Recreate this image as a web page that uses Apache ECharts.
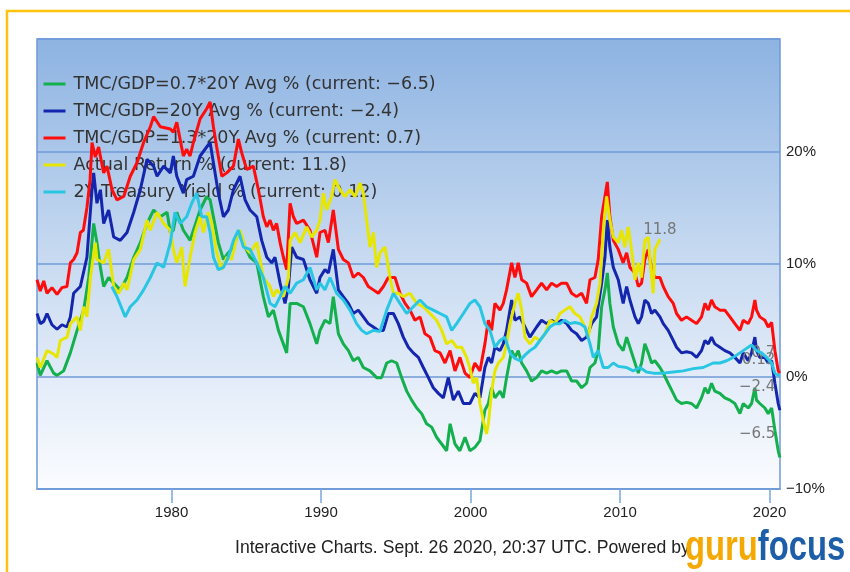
<!DOCTYPE html>
<html>
<head>
<meta charset="utf-8">
<script src="https://cdn.jsdelivr.net/npm/echarts@6/dist/echarts.min.js"></script>
<style>
html,body{margin:0;padding:0;background:#fff;}
#chart{width:850px;height:572px;}
</style>
</head>
<body>
<div id="chart"></div>
<script>
// ---------- DATA ----------
const seriesNames = [
  'TMC/GDP=0.7*20Y Avg %',
  'TMC/GDP=20Y Avg %',
  'TMC/GDP=1.3*20Y Avg %',
  'Actual Return %',
  '2Y Treasury Yield %'
];
const currentValues = ['−6.5', '−2.4', '0.7', '11.8', '0.12'];
const xTickYears = [1980, 1990, 2000, 2010, 2020];
const yTicks = [-10, 0, 10, 20, 30];

const greenData = [
[1971.0,1.2],[1971.22,0.1],[1971.67,1.4],[1972.11,0.3],[1972.34,0.1],[1972.78,0.5],[1973.23,2.1],[1973.68,4.1],[1974.12,5.9],[1974.46,8.8],[1974.79,13.6],[1975.01,11.9],[1975.24,9.7],[1975.46,8.0],[1975.79,8.8],[1976.13,8.3],[1976.57,7.7],[1977.02,8.8],[1977.47,10.6],[1977.91,11.9],[1978.36,13.6],[1978.8,14.8],[1979.25,14.2],[1979.7,14.6],[1979.92,12.8],
[1980.12,13.0],[1980.35,14.6],[1980.79,13.0],[1981.24,12.1],[1981.46,13.0],[1981.91,14.8],[1982.35,16.0],[1982.58,15.7],[1982.8,14.2],[1983.13,11.9],[1983.47,10.4],[1983.8,11.0],[1984.14,11.5],[1984.47,12.8],[1984.92,11.5],[1985.25,10.6],[1985.7,10.1],[1986.14,7.1],[1986.48,5.3],[1986.81,5.9],[1987.15,4.1],[1987.48,2.9],[1987.7,2.1],[1987.93,6.5],[1988.37,6.5],[1988.82,6.2],[1989.26,4.7],[1989.71,2.9],
[1989.93,4.1],[1990.26,5.0],[1990.6,4.7],[1990.82,7.1],[1991.16,3.8],[1991.49,2.9],[1991.83,2.3],[1992.16,1.4],[1992.49,1.7],[1992.83,0.8],[1993.27,0.5],[1993.72,-0.1],[1994.05,-0.1],[1994.39,1.2],[1994.72,1.4],[1995.06,1.2],[1995.39,-0.1],[1995.73,-1.3],[1996.06,-2.1],[1996.4,-2.8],[1996.73,-3.3],[1997.06,-4.2],[1997.4,-4.5],[1997.73,-5.4],[1998.07,-6.0],[1998.4,-6.6],[1998.63,-4.2],[1998.96,-6.0],[1999.29,-6.6],[1999.63,-5.4],
[1999.96,-6.6],[2000.29,-6.3],[2000.63,-5.7],[2000.96,-3.0],[2001.19,-2.4],[2001.41,-1.0],[2001.63,-1.9],[2001.97,-1.3],[2002.19,-1.9],[2002.41,-0.1],[2002.75,2.3],[2002.97,1.7],[2003.19,2.3],[2003.42,1.2],[2003.75,0.5],[2004.08,-0.4],[2004.42,-0.1],[2004.75,0.5],[2005.09,0.3],[2005.42,0.5],[2005.76,0.3],[2006.09,0.5],[2006.43,0.5],[2006.76,-0.4],[2007.09,-0.4],[2007.43,-1.0],[2007.76,-0.6],[2007.99,0.8],[2008.32,1.2],[2008.54,2.3],[2008.77,6.2],[2008.99,7.7],[2009.15,9.2],[2009.32,6.5],[2009.55,4.4],[2009.88,2.9],
[2010.21,2.3],[2010.44,3.5],[2010.66,2.6],[2011.0,1.2],[2011.22,0.3],[2011.44,1.2],[2011.66,2.9],[2011.89,2.1],[2012.11,1.2],[2012.33,1.4],[2012.67,0.8],[2012.89,0.3],[2013.22,-0.6],[2013.56,-1.5],[2013.78,-2.1],[2014.11,-2.4],[2014.45,-2.3],[2014.78,-2.4],[2015.12,-2.8],[2015.45,-1.9],[2015.68,-1.0],[2015.9,-1.5],[2016.12,-0.6],[2016.34,-1.3],[2016.68,-1.5],[2017.01,-1.9],[2017.35,-2.1],[2017.68,-2.4],[2018.02,-3.3],[2018.24,-2.4],[2018.57,-2.8],[2018.8,-2.4],[2019.02,-1.0],[2019.13,-2.1],[2019.35,-2.4],[2019.69,-2.8],[2019.91,-3.3],[2020.14,-2.8],[2020.36,-4.8],[2020.58,-6.6],[2020.69,-7.2]
];

const blueData = [
[1971.0,5.6],[1971.22,4.7],[1971.45,4.9],[1971.67,5.6],[1972.0,4.6],[1972.34,4.2],[1972.67,4.6],[1973.0,4.4],[1973.23,5.3],[1973.45,7.4],[1973.9,8.0],[1974.34,10.6],[1974.68,16.6],[1974.79,18.1],[1975.01,15.4],[1975.24,16.6],[1975.46,13.6],[1975.79,14.8],[1976.13,12.4],[1976.57,12.1],[1977.02,12.8],[1977.47,14.6],[1977.91,16.6],[1978.36,19.3],[1978.8,18.7],[1979.03,17.8],[1979.47,18.7],[1979.92,18.1],
[1980.12,19.6],[1980.35,17.8],[1980.79,16.3],[1981.01,17.5],[1981.46,17.8],[1981.91,19.6],[1982.35,20.4],[1982.58,20.8],[1982.8,19.0],[1983.13,16.3],[1983.47,14.2],[1983.8,14.8],[1984.14,16.6],[1984.58,17.8],[1984.92,15.7],[1985.25,14.8],[1985.7,14.2],[1986.03,12.1],[1986.37,10.6],[1986.7,10.1],[1986.92,10.6],[1987.26,8.3],[1987.59,6.5],[1987.82,8.0],[1988.04,11.5],[1988.37,10.6],[1988.82,10.4],[1989.26,8.6],[1989.71,7.4],
[1989.93,8.8],[1990.26,9.5],[1990.49,9.2],[1990.82,11.3],[1991.16,7.7],[1991.49,7.1],[1991.83,6.5],[1992.16,5.6],[1992.49,5.9],[1992.83,5.3],[1993.16,4.7],[1993.5,4.4],[1993.83,4.1],[1994.17,4.1],[1994.5,5.6],[1994.84,5.6],[1995.17,4.7],[1995.5,3.5],[1995.84,2.6],[1996.17,2.1],[1996.51,1.7],[1996.84,0.8],[1997.18,-0.1],[1997.51,-1.0],[1997.85,-1.5],[1998.18,-1.9],[1998.51,-0.1],[1998.85,-2.1],[1999.18,-1.3],[1999.52,-2.4],
[1999.96,-2.4],[2000.29,-1.5],[2000.63,-1.9],[2000.96,0.8],[2001.19,1.7],[2001.41,1.2],[2001.63,2.6],[2001.97,2.3],[2002.19,2.9],[2002.41,4.1],[2002.75,6.8],[2002.97,5.0],[2003.3,5.3],[2003.64,4.4],[2003.97,3.5],[2004.42,4.4],[2004.75,5.0],[2005.09,4.7],[2005.42,5.0],[2005.76,4.7],[2006.09,5.0],[2006.43,4.7],[2006.76,4.1],[2007.09,3.8],[2007.43,3.2],[2007.76,3.5],[2008.1,4.7],[2008.43,5.3],[2008.77,8.3],[2008.99,10.6],[2009.15,13.9],[2009.32,11.5],[2009.55,9.7],[2009.88,8.6],
[2010.21,6.5],[2010.44,8.0],[2010.66,6.8],[2011.0,5.3],[2011.22,4.7],[2011.44,5.3],[2011.66,6.8],[2011.89,6.5],[2012.11,5.6],[2012.33,5.9],[2012.67,5.3],[2012.89,4.7],[2013.22,4.1],[2013.56,3.2],[2013.78,2.6],[2014.11,2.1],[2014.45,2.2],[2014.78,2.1],[2015.12,1.7],[2015.45,2.3],[2015.68,3.2],[2015.9,2.9],[2016.12,3.5],[2016.34,2.9],[2016.68,2.6],[2017.01,2.3],[2017.35,2.1],[2017.68,1.7],[2018.02,1.2],[2018.24,2.1],[2018.57,1.4],[2018.8,2.1],[2019.02,3.5],[2019.13,2.3],[2019.35,1.7],[2019.69,1.7],[2019.91,1.2],[2020.14,1.4],[2020.36,-0.6],[2020.58,-2.4],[2020.69,-3.0]
];

const redData = [
[1971.0,8.6],[1971.22,7.6],[1971.45,8.5],[1971.67,7.4],[1972.0,7.9],[1972.34,7.3],[1972.67,7.9],[1973.0,8.0],[1973.23,10.1],[1973.45,10.4],[1973.68,11.0],[1973.9,12.8],[1974.1,13.0],[1974.34,15.0],[1974.55,17.5],[1974.68,20.8],[1974.9,19.5],[1975.12,20.4],[1975.46,18.1],[1975.68,18.7],[1976.02,16.6],[1976.35,15.7],[1976.8,16.0],[1977.24,17.8],[1977.69,19.0],[1978.13,20.8],[1978.58,22.2],[1978.8,23.1],[1979.25,22.2],[1979.92,22.0],
[1980.12,21.7],[1980.35,22.6],[1980.57,21.1],[1980.79,19.6],[1981.01,20.2],[1981.24,19.6],[1981.46,20.8],[1981.91,22.9],[1982.35,23.8],[1982.58,24.4],[1982.8,22.2],[1983.02,20.4],[1983.36,17.8],[1983.69,18.1],[1984.14,18.7],[1984.47,21.1],[1984.69,19.9],[1985.03,18.4],[1985.47,18.7],[1985.81,16.6],[1986.14,14.2],[1986.37,13.3],[1986.59,13.9],[1986.81,13.0],[1987.03,13.6],[1987.26,11.9],[1987.48,10.6],[1987.7,9.5],[1987.93,15.4],[1988.15,14.2],[1988.37,13.6],[1988.82,13.9],[1989.26,13.0],[1989.71,10.6],
[1989.93,12.8],[1990.26,13.0],[1990.49,11.9],[1990.82,14.8],[1991.16,11.3],[1991.49,10.4],[1991.83,10.1],[1992.16,8.8],[1992.49,9.2],[1992.83,8.8],[1993.16,8.0],[1993.5,7.7],[1993.83,7.4],[1994.17,8.0],[1994.5,8.8],[1994.95,8.8],[1995.28,7.4],[1995.62,6.5],[1995.95,5.9],[1996.28,5.0],[1996.62,5.3],[1996.95,3.8],[1997.29,3.5],[1997.62,2.3],[1997.96,2.1],[1998.29,1.2],[1998.63,2.3],[1998.96,0.5],[1999.29,1.7],[1999.63,0.3],
[1999.96,-0.1],[2000.29,1.2],[2000.63,0.5],[2000.96,2.9],[2001.19,5.0],[2001.41,4.1],[2001.63,6.5],[2001.97,5.9],[2002.19,6.5],[2002.41,7.7],[2002.75,10.1],[2002.97,8.8],[2003.19,10.1],[2003.42,8.6],[2003.75,8.3],[2004.08,7.1],[2004.42,7.7],[2004.75,8.3],[2005.09,7.7],[2005.42,8.3],[2005.76,8.0],[2006.09,8.3],[2006.43,8.3],[2006.76,7.4],[2007.09,7.1],[2007.43,7.4],[2007.76,6.5],[2007.99,8.6],[2008.32,8.8],[2008.54,10.4],[2008.77,14.2],[2008.99,16.0],[2009.15,17.3],[2009.32,14.2],[2009.55,12.1],[2009.88,11.3],
[2010.21,10.1],[2010.44,11.0],[2010.66,9.7],[2011.0,9.2],[2011.22,8.0],[2011.44,8.3],[2011.66,10.4],[2011.89,11.3],[2012.11,9.5],[2012.33,8.8],[2012.67,8.8],[2012.89,8.0],[2013.22,7.1],[2013.56,6.5],[2013.78,5.6],[2014.11,5.0],[2014.45,5.3],[2014.78,5.0],[2015.12,4.7],[2015.45,5.3],[2015.68,6.5],[2015.9,5.9],[2016.12,6.8],[2016.34,6.2],[2016.68,5.9],[2017.01,5.9],[2017.35,5.3],[2017.68,4.7],[2018.02,4.1],[2018.24,5.0],[2018.57,4.7],[2018.8,5.3],[2019.02,6.8],[2019.13,5.9],[2019.35,5.3],[2019.69,5.0],[2019.91,4.4],[2020.14,4.8],[2020.36,2.3],[2020.58,0.5],[2020.69,0.3]
];

const yellowData = [
[1971.0,1.7],[1971.22,0.8],[1971.67,2.3],[1972.11,2.0],[1972.34,1.7],[1972.56,3.2],[1973.01,3.5],[1973.23,4.7],[1973.68,5.3],[1973.9,4.1],[1974.12,6.2],[1974.34,5.3],[1974.57,8.8],[1974.9,11.9],[1975.01,10.4],[1975.46,10.1],[1975.79,11.3],[1976.13,8.0],[1976.46,7.4],[1976.8,8.3],[1977.02,7.7],[1977.47,10.4],[1977.91,11.3],[1978.36,13.9],[1978.58,13.0],[1979.03,14.6],[1979.47,13.6],[1979.92,13.0],
[1980.12,11.3],[1980.35,10.1],[1980.68,11.5],[1980.9,8.0],[1981.24,10.6],[1981.57,12.8],[1981.91,14.2],[1982.13,12.8],[1982.46,14.6],[1982.69,13.6],[1983.02,11.0],[1983.36,9.5],[1983.69,10.6],[1984.02,10.4],[1984.36,12.4],[1984.58,13.0],[1984.92,11.5],[1985.25,11.0],[1985.7,11.9],[1986.14,8.8],[1986.59,8.0],[1986.81,7.1],[1987.03,7.7],[1987.48,7.1],[1987.82,8.8],[1987.93,12.1],[1988.26,12.8],[1988.6,11.9],[1989.04,13.3],[1989.38,12.4],[1989.71,13.0],
[1989.93,13.9],[1990.15,16.3],[1990.38,14.8],[1990.71,16.0],[1990.93,17.5],[1991.27,16.6],[1991.6,16.0],[1991.94,16.6],[1992.27,16.0],[1992.61,17.2],[1992.83,16.3],[1993.05,13.9],[1993.27,11.5],[1993.5,12.8],[1993.72,9.7],[1993.94,11.0],[1994.28,11.5],[1994.61,8.8],[1994.84,7.4],[1995.17,7.4],[1995.5,7.1],[1995.95,7.4],[1996.4,6.5],[1996.84,6.2],[1997.29,5.6],[1997.73,5.0],[1998.07,4.1],[1998.4,2.9],[1998.74,3.2],[1999.07,2.6],[1999.41,2.6],[1999.74,1.7],
[2000.0,0.5],[2000.18,-0.6],[2000.41,-0.1],[2000.63,-2.4],[2000.85,-3.9],[2001.07,-5.1],[2001.19,-4.2],[2001.41,-1.3],[2001.63,0.5],[2001.86,1.2],[2002.19,1.7],[2002.41,2.9],[2002.64,4.7],[2002.97,6.5],[2003.19,7.4],[2003.42,5.9],[2003.64,3.5],[2003.97,2.9],[2004.31,3.5],[2004.64,3.2],[2004.98,3.8],[2005.31,5.0],[2005.65,4.7],[2005.98,5.6],[2006.31,5.9],[2006.65,6.2],[2006.98,5.6],[2007.32,5.3],[2007.65,4.4],[2007.88,3.5],[2008.1,5.3],[2008.43,6.5],[2008.66,8.3],[2008.88,13.0],[2009.1,16.0],[2009.32,13.9],[2009.55,12.4],[2009.88,11.9],
[2010.1,13.0],[2010.32,11.5],[2010.55,13.3],[2010.77,11.3],[2011.0,8.6],[2011.22,10.1],[2011.44,8.8],[2011.66,12.1],[2011.89,12.4],[2012.0,10.4],[2012.22,7.4],[2012.33,11.3],[2012.56,11.9],[2012.67,12.2]
];

const cyanData = [
[1976.0,8.0],[1976.35,7.1],[1976.9,5.3],[1977.24,6.2],[1977.69,6.8],[1978.13,7.7],[1978.58,8.8],[1979.03,10.1],[1979.47,9.7],[1979.92,11.9],
[1980.23,14.6],[1980.57,13.6],[1981.01,14.2],[1981.35,15.4],[1981.68,16.3],[1982.02,14.2],[1982.35,14.2],[1982.58,12.8],[1982.8,10.6],[1983.13,9.5],[1983.47,9.7],[1983.8,10.6],[1984.14,12.1],[1984.47,13.0],[1984.81,11.5],[1985.25,11.3],[1985.7,10.1],[1986.14,8.8],[1986.59,6.5],[1986.92,6.2],[1987.26,7.1],[1987.59,8.0],[1987.93,7.4],[1988.37,8.3],[1988.82,8.6],[1989.26,9.7],[1989.71,7.7],
[1989.93,8.3],[1990.26,7.7],[1990.6,8.8],[1991.04,7.4],[1991.49,6.8],[1991.94,5.9],[1992.38,4.7],[1992.72,4.1],[1993.05,3.8],[1993.5,4.1],[1993.94,4.0],[1994.39,5.9],[1994.84,7.4],[1995.28,6.5],[1995.73,5.6],[1996.17,6.2],[1996.62,6.8],[1997.06,6.2],[1997.51,5.9],[1997.96,5.6],[1998.4,5.3],[1998.74,4.1],[1999.07,4.7],[1999.52,5.6],
[1999.96,6.5],[2000.29,6.8],[2000.63,6.2],[2000.96,4.7],[2001.3,4.1],[2001.63,2.6],[2001.97,3.2],[2002.3,3.5],[2002.64,2.1],[2002.97,1.6],[2003.3,1.4],[2003.64,1.9],[2003.97,2.3],[2004.31,2.6],[2004.64,3.2],[2004.98,3.8],[2005.31,4.4],[2005.65,4.7],[2005.98,4.7],[2006.31,5.0],[2006.65,4.7],[2006.98,4.8],[2007.32,4.7],[2007.65,4.4],[2007.99,2.9],[2008.21,1.7],[2008.54,2.3],[2008.88,0.8],[2009.21,0.8],[2009.55,1.2],[2009.88,0.9],
[2010.44,0.8],[2010.88,0.5],[2011.33,0.8],[2011.77,0.4],[2012.22,0.3],[2012.89,0.3],[2013.56,0.4],[2014.23,0.5],[2014.9,0.7],[2015.56,0.8],[2016.23,1.2],[2016.68,1.2],[2017.13,1.4],[2017.57,1.7],[2018.02,2.1],[2018.46,2.5],[2018.8,2.8],[2019.13,2.3],[2019.47,2.1],[2019.8,1.7],[2020.14,1.2],[2020.36,0.3],[2020.58,0.1],[2020.69,0.12]
];

const seriesData = [greenData, blueData, redData, yellowData, cyanData];
const seriesColors = ['#14b04e', '#1326ad', '#ff0d0d', '#e6e600', '#29c6e4'];
// end-label placement: [position, offsetX, offsetY]
const endLabelPlacement = [['left', 0, -23], ['left', 0, -23], ['left', 0, -20], ['top', 0, 3], ['left', 0, -15]];

// ---------- CHART ----------
const chart = echarts.init(document.getElementById('chart'), null, {renderer: 'canvas'});
const minus = v => String(v).replace('-', '−');

const series = seriesData.map((d, i) => {
  const last = d[d.length - 1];
  const pl = endLabelPlacement[i];
  return {
    name: seriesNames[i] + ' (current: ' + currentValues[i] + ')',
    type: 'line',
    data: d,
    symbol: 'none',
    smooth: false,
    z: 3 + i,
    lineStyle: {color: seriesColors[i], width: 3},
    itemStyle: {color: seriesColors[i]},
    markPoint: {
      symbol: 'circle',
      symbolSize: 1,
      itemStyle: {color: 'rgba(0,0,0,0)'},
      data: [{coord: last, value: currentValues[i]}],
      label: {
        show: true,
        position: pl[0],
        distance: 4,
        offset: [pl[1], pl[2]],
        formatter: () => currentValues[i],
        color: '#777',
        fontSize: 15,
        fontFamily: 'DejaVu Sans'
      }
    }
  };
});

chart.setOption({
  animation: false,
  backgroundColor: '#ffffff',
  grid: {
    left: 37, right: 70, top: 39, bottom: 83,
    show: true,
    borderColor: '#6f9bd8',
    borderWidth: 1.5,
    backgroundColor: new echarts.graphic.LinearGradient(0, 0, 0, 1, [
      {offset: 0, color: '#8db3e2'},
      {offset: 0.5, color: '#c9dbf1'},
      {offset: 1, color: '#fbfcff'}
    ])
  },
  legend: {
    orient: 'vertical',
    left: 37,
    top: 70,
    itemWidth: 22,
    itemHeight: 14,
    itemGap: 9,
    itemStyle: {opacity: 0},
    lineStyle: {width: 3},
    textStyle: {color: '#333', fontSize: 17.5, fontFamily: 'DejaVu Sans', lineHeight: 18, padding: [0, 0, 0, 3]},
    data: series.map(s => s.name)
  },
  xAxis: {
    type: 'value',
    min: 1971,
    max: 2020.7,
    splitLine: {show: false},
    axisLine: {show: true, onZero: false, lineStyle: {color: '#6f9bd8', width: 1.5}},
    axisTick: {show: true, length: 14, customValues: xTickYears, lineStyle: {color: '#7aa6dd', width: 1.5}},
    axisLabel: {customValues: xTickYears, color: '#222', fontSize: 15, fontFamily: 'Liberation Sans', margin: 16, formatter: v => String(v)}
  },
  yAxis: {
    type: 'value',
    position: 'right',
    min: yTicks[0],
    max: yTicks[yTicks.length - 1],
    interval: 10,
    axisLine: {show: false},
    axisTick: {show: false},
    axisLabel: {color: '#222', fontSize: 15, fontFamily: 'Liberation Sans', margin: 6, showMaxLabel: false, formatter: v => minus(v) + '%'},
    splitLine: {show: true, lineStyle: {color: '#6f9bd8', width: 1.5}}
  },
  series: series,
  graphic: [
    {type: 'rect', silent: true, z: -10, shape: {x: 7, y: 11, width: 900, height: 620}, style: {fill: 'none', stroke: '#ffc30f', lineWidth: 2.5}},
    {type: 'text', left: 235, top: 539, style: {text: 'Interactive Charts. Sept. 26 2020, 20:37 UTC. Powered by', fill: '#222', font: '17.6px "Liberation Sans"'}},
    {type: 'text', x: 685, y: 527, scaleX: 0.78, z: 20, style: {
      text: '{a|guru}{b|focus}',
      rich: {
        a: {fill: '#f5a800', font: 'bold 42px "Liberation Sans"'},
        b: {fill: '#1d5ea9', font: 'bold 42px "Liberation Sans"'}
      }
    }}
  ]
});
</script>
</body>
</html>
